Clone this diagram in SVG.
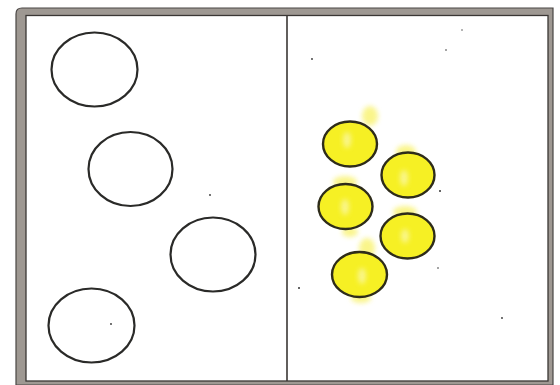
<svg xmlns="http://www.w3.org/2000/svg" width="560" height="385" viewBox="0 0 560 385">
<defs>
<filter id="soft" x="-50%" y="-50%" width="200%" height="200%"><feGaussianBlur stdDeviation="2.5"/></filter>
<style>
.ring{fill:none;stroke:#2a2a28;stroke-width:2.2}
.ball{fill:#f6f024;stroke:#2e2c1a;stroke-width:2.4}
.haze{fill:#f8f15a;opacity:0.7;filter:url(#soft)}
.hl{fill:#fbf8a8;opacity:0.8;filter:url(#soft)}
.dot{fill:#333}
</style>
</defs>
<rect x="0" y="0" width="560" height="385" fill="#ffffff"/>
<g id="frame">
<path d="M16 385 V14 Q16 8 22 8 H553 V385 Z" fill="#9e9892" stroke="#4a4644" stroke-width="1.2"/>
<rect x="26" y="15.5" width="522" height="365.5" fill="#ffffff" stroke="#3a3634" stroke-width="1.3"/>
<line x1="287" y1="16" x2="287" y2="381" stroke="#3a3634" stroke-width="1.6"/>
</g>
<g id="left-panel">
<ellipse id="c1" class="ring" cx="94.5" cy="69.5" rx="43" ry="37"/>
<ellipse id="c2" class="ring" cx="130.5" cy="169" rx="42" ry="37"/>
<ellipse id="c3" class="ring" cx="213" cy="254.5" rx="42.5" ry="37"/>
<ellipse id="c4" class="ring" cx="91.5" cy="325.5" rx="43" ry="37"/>
<circle class="dot" cx="210" cy="195" r="0.9"/>
<circle class="dot" cx="111" cy="324" r="0.9"/>
</g>
<g id="right-panel">
<g id="haze">
<ellipse class="haze" cx="370" cy="116" rx="8" ry="10"/>
<ellipse class="haze" cx="406" cy="152" rx="10" ry="7"/>
<ellipse class="haze" cx="345" cy="182" rx="12" ry="6"/>
<ellipse class="haze" cx="405" cy="212" rx="12" ry="6"/>
<ellipse class="haze" cx="367" cy="248" rx="8" ry="10"/>
<ellipse class="haze" cx="350" cy="232" rx="8" ry="5"/>
<ellipse class="haze" cx="361" cy="298" rx="10" ry="5"/>
</g>
<g id="y1"><ellipse class="ball" cx="350" cy="144" rx="27" ry="22.5"/><ellipse class="hl" cx="347" cy="140" rx="4" ry="8"/></g>
<g id="y2"><ellipse class="ball" cx="408" cy="175" rx="26.5" ry="22.5"/><ellipse class="hl" cx="404" cy="178" rx="4" ry="8"/></g>
<g id="y3"><ellipse class="ball" cx="345.5" cy="206.5" rx="27" ry="22.5"/><ellipse class="hl" cx="345" cy="207" rx="4" ry="8"/></g>
<g id="y4"><ellipse class="ball" cx="407.5" cy="236" rx="27" ry="22.5"/><ellipse class="hl" cx="405" cy="236" rx="4" ry="7"/></g>
<g id="y5"><ellipse class="ball" cx="359.5" cy="274.5" rx="27.5" ry="22.5"/><ellipse class="hl" cx="362" cy="276" rx="4" ry="8"/></g>
<circle class="dot" cx="312" cy="59" r="0.9"/>
<circle class="dot" cx="446" cy="50" r="0.8"/>
<circle class="dot" cx="462" cy="30" r="0.7"/>
<circle class="dot" cx="440" cy="191" r="1"/>
<circle class="dot" cx="299" cy="288" r="1"/>
<circle class="dot" cx="438" cy="268" r="0.8"/>
<circle class="dot" cx="502" cy="318" r="0.9"/>
</g>
</svg>
